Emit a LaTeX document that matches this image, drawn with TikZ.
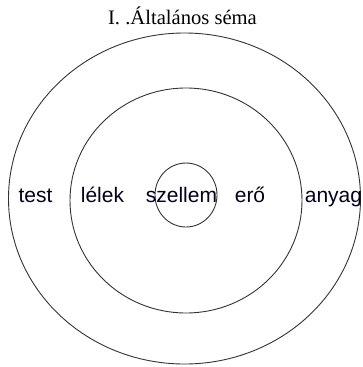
\documentclass[tikz,border=0pt]{standalone}
\usepackage{fontspec}
\setmainfont{Liberation Serif}
\newfontfamily\labelfont{Liberation Sans}
\begin{document}
\begin{tikzpicture}[x=1pt,y=-1pt,
  ring/.style={draw=black!80,line width=0.9pt},
  lbl/.style={font=\labelfont\fontsize{21}{24}\selectfont,anchor=base,inner sep=0pt,text=black!90!blue},
  ttl/.style={font=\fontsize{20.6}{24}\selectfont,anchor=base,inner sep=0pt}]
\useasboundingbox (0,0) rectangle (362,367);
\draw[ring] (184.5,198.5) ellipse [x radius=176, y radius=165.5];
\draw[ring] (186,200.5) ellipse [x radius=116, y radius=112.5];
\draw[ring] (186,195) ellipse [x radius=31, y radius=32];
\node[ttl] (title) at (182.5,24) {I. .Általános séma};
\node[lbl] (test) at (35.5,202) {test};
\node[lbl] (lelek) at (102.5,202) {lélek};
\node[lbl] (szellem) at (181.5,202) {szellem};
\node[lbl] (ero) at (250,202) {erő};
\node[lbl] (anyag) at (333.5,202) {anyag};
\end{tikzpicture}
\end{document}
